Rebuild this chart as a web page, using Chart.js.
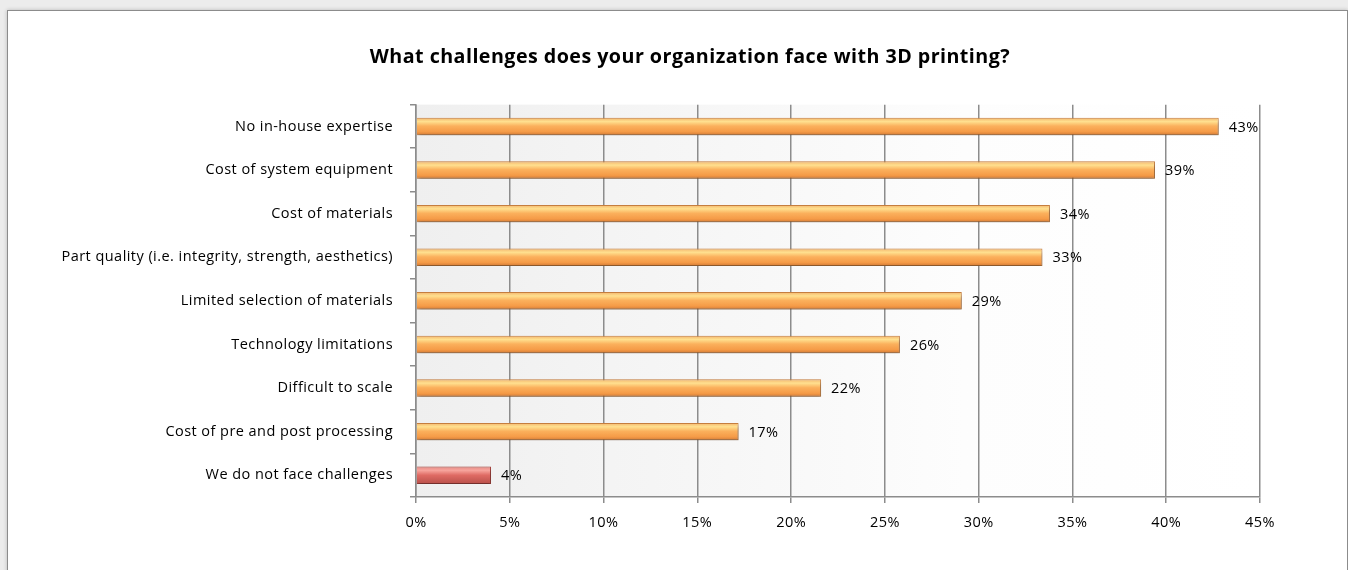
<!DOCTYPE html>
<html>
<head>
<meta charset="utf-8">
<script src="https://cdn.jsdelivr.net/npm/chart.js@4/dist/chart.umd.min.js"></script>
<style>
 html,body{margin:0;padding:0;background:#ececec;overflow:hidden;width:1348px;height:570px;}
 #frame{position:absolute;left:7px;top:10px;width:1341px;height:580px;box-sizing:border-box;
  border:1px solid #8c8c8c;background:#fff;box-shadow:0 0 4px rgba(0,0,0,.22);}
 #wrap{position:absolute;left:0;top:0;width:1348px;height:570px;overflow:hidden;}
</style>
</head>
<body>
<div id="frame"></div>
<div id="wrap"><canvas id="chart" width="1380" height="570"></canvas></div>
<script>
// ===== DATOS =====
const titulo="What challenges does your organization face with 3D printing?";
const categorias=[
 "No in-house expertise",
 "Cost of system equipment",
 "Cost of materials",
 "Part quality (i.e. integrity, strength, aesthetics)",
 "Limited selection of materials",
 "Technology limitations",
 "Difficult to scale",
 "Cost of pre and post processing",
 "We do not face challenges"
];
const valores=[42.8,39.4,33.8,33.4,29.1,25.8,21.6,17.2,4.0];
const ejeMin=0, ejeMax=45, paso=5;

const fuente="'Open Sans', sans-serif";
const tamTexto=14.5;

// ===== ESTILO BARRAS =====
function gradBarra(ctx,top,bottom,rojo){
 const g=ctx.createLinearGradient(0,top,0,bottom);
 if(rojo){
  g.addColorStop(0,"#e58a84");
  g.addColorStop(0.22,"#f7a59d");
  g.addColorStop(0.5,"#df6b64");
  g.addColorStop(1,"#b9504a");
 }else{
  g.addColorStop(0,"#f3b46c");
  g.addColorStop(0.22,"#ffe08f");
  g.addColorStop(0.48,"#fbb05c");
  g.addColorStop(0.8,"#f59b47");
  g.addColorStop(1,"#d27a36");
 }
 return g;
}
const esRojo=i=>i===categorias.length-1;

// fondo del área de trazado, relleno de barras y etiquetas
const estiloPlugin={
 id:"estilo",
 beforeDraw(chart){
  const {ctx,chartArea:a}=chart;
  ctx.letterSpacing="0.45px";
  const g=ctx.createLinearGradient(a.left,0,a.right,0);
  g.addColorStop(0,"#efefef");
  g.addColorStop(0.65,"#fdfdfd");
  g.addColorStop(1,"#ffffff");
  ctx.save();
  ctx.fillStyle=g;
  ctx.fillRect(a.left,a.top,a.right-a.left,a.bottom-a.top);
  ctx.restore();
 },
 beforeDatasetsDraw(chart){
  const ctx=chart.ctx;
  const meta=chart.getDatasetMeta(0);
  meta.data.forEach((bar,i)=>{
   const h=bar.height/2;
   bar.options.backgroundColor=gradBarra(ctx,bar.y-h,bar.y+h,esRojo(i));
  });
  ctx.save();
  ctx.shadowColor="rgba(0,0,0,0.35)";
  ctx.shadowBlur=4;
  ctx.shadowOffsetX=1;
  ctx.shadowOffsetY=3;
 },
 afterDatasetsDraw(chart){
  const ctx=chart.ctx;
  ctx.restore();
  const meta=chart.getDatasetMeta(0);
  ctx.save();
  ctx.font=tamTexto+"px "+fuente;
  ctx.fillStyle="#000";
  ctx.textBaseline="middle";
  ctx.textAlign="left";
  meta.data.forEach((bar,i)=>{
   ctx.fillText(Math.round(valores[i])+"%",bar.x+10,bar.y+1);
  });
  ctx.restore();
 }
};

new Chart(document.getElementById("chart"),{
 type:"bar",
 data:{
  labels:categorias,
  datasets:[{
   data:valores,
   // funciones => opciones propias por barra
   backgroundColor:c=>esRojo(c.dataIndex)?"#df6b64":"#f9a650",
   borderColor:c=>esRojo(c.dataIndex)?"#a7443f":"#c88040",
   borderWidth:1,
   barPercentage:0.4,
   categoryPercentage:1
  }]
 },
 options:{
  indexAxis:"y",
  responsive:false,
  animation:false,
  devicePixelRatio:1,
  layout:{padding:{top:10,right:0,bottom:0,left:0}},
  plugins:{
   legend:{display:false},
   tooltip:{enabled:false},
   title:{
    display:true,
    text:titulo,
    color:"#000",
    font:{family:fuente,size:19.7,weight:"bold"},
    padding:{top:36,bottom:35}
   }
  },
  scales:{
   x:{
    min:ejeMin,max:ejeMax,
    border:{color:"#8c8c8c",width:1.5},
    grid:{color:"#8c8c8c",lineWidth:1.5,tickLength:6},
    ticks:{stepSize:paso,padding:11,color:"#000",font:{family:fuente,size:tamTexto},callback:v=>v+"%"},
    afterFit(s){s.height=73;}
   },
   y:{
    border:{color:"#8c8c8c",width:1.5},
    grid:{drawOnChartArea:false,color:"#8c8c8c",lineWidth:1.5,tickLength:6},
    ticks:{padding:17,color:"#000",font:{family:fuente,size:tamTexto}},
    afterFit(s){s.width=416;}
   },
   // margen derecho vacío (deja el título centrado en el marco)
   margenDer:{
    type:"linear",
    position:"right",
    grid:{display:false},
    border:{display:false},
    ticks:{display:false},
    afterFit(s){s.width=120;}
   }
  }
 },
 plugins:[estiloPlugin]
});
</script>
</body>
</html>
